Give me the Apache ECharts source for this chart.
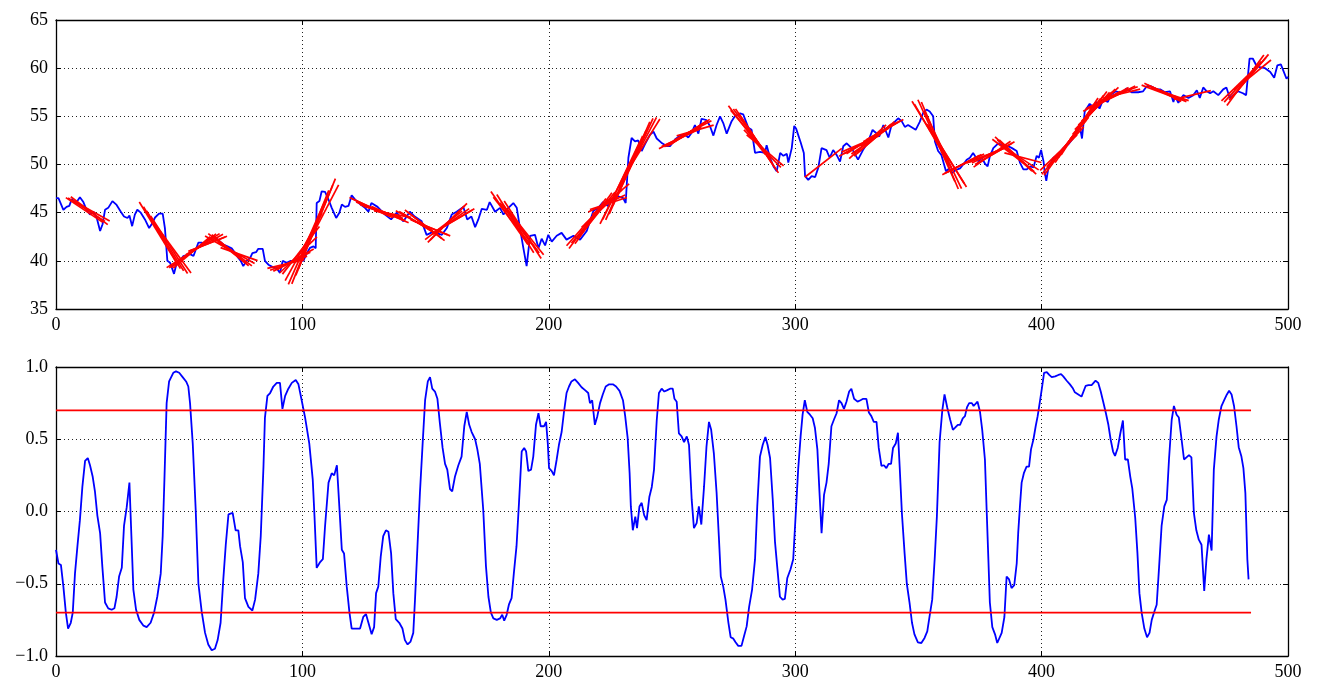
<!DOCTYPE html>
<html>
<head>
<meta charset="utf-8">
<script src="https://cdn.jsdelivr.net/npm/echarts@6/dist/echarts.min.js"></script>
<style>
  html, body { margin: 0; padding: 0; background: #fff; }
  #chart { width: 1321px; height: 681px; }
</style>
</head>
<body>
<div id="chart"></div>
<script>
// Price path: [index, value]
const priceSeries = [
  [0,46.5],[1,46.5],[3,45.3],[4.3,45.6],[5.4,45.7],[6.4,46.4],[8.1,46.0],[9.7,46.6],[11.1,46.1],[12.4,45.3],
  [13.8,44.8],[15.2,45.1],[16.5,44.5],[17.9,43.1],[18.9,43.8],[19.9,45.3],[21.2,45.5],[22.9,46.2],[24.6,45.8],
  [26.3,45.1],[27.6,44.6],[29,44.45],[29.8,44.7],[30.9,43.6],[32,44.8],[33,45.3],[34.4,45.0],[36.1,44.3],
  [37.8,43.4],[38.8,43.8],[40.2,44.5],[41.8,44.9],[43.3,44.9],[44.2,43.4],[45.2,40.0],[46.3,39.8],[47,40.0],
  [47.9,38.65],[49,39.8],[50.3,40.0],[51.7,40.5],[53,40.6],[54.4,40.7],[55.8,40.5],[56.8,41.2],[57.8,41.9],
  [59.1,41.9],[60.5,41.7],[61.8,42.3],[63.6,42.45],[65.2,42.3],[66.6,42.0],[67.9,41.7],[69.6,41.5],[71.3,41.3],
  [72.7,40.8],[74,40.3],[75,40.0],[76,39.45],[77.4,40.0],[78.8,40.3],[79.7,40.8],[81.2,40.9],[82.1,41.25],
  [83.9,41.25],[84.8,40.0],[86.2,39.6],[88,39.35],[89.6,39.2],[90.9,38.75],[92,40.0],[93.6,39.8],[95.3,40.0],
  [97,39.9],[98.8,40.1],[100.4,40.0],[101.8,40.8],[103.1,41.35],[104.5,41.5],[105.4,41.3],[105.8,46.0],
  [106.9,46.2],[107.8,47.2],[109.2,47.15],[110.6,46.35],[111.9,45.5],[113.7,44.45],[115,45.0],[116,45.85],
  [117.3,45.6],[118.7,45.7],[120,46.8],[121.4,46.35],[123.4,45.9],[125.4,45.5],[126.8,45.1],[128,46.0],
  [130.5,45.6],[133.5,44.8],[136,44.3],[138.3,45.0],[141,44.1],[143.6,45.1],[145.6,44.6],[148.4,44.1],
  [150.4,42.7],[153,43.0],[156.6,42.7],[158.6,43.4],[160.6,44.8],[162.6,45.1],[165.3,45.6],[166.9,44.3],
  [168.6,44.6],[170.1,43.5],[171.4,44.3],[172.8,45.4],[174.9,45.3],[176,46.1],[178.2,45.1],[180.2,45.5],
  [181.6,44.8],[183.6,45.5],[185.6,46.0],[187,45.5],[188.3,43.4],[189.7,41.3],[191,39.45],[192.4,42.6],
  [194.4,42.7],[195.8,41.3],[197.1,42.3],[198.5,41.6],[199.8,42.7],[201.2,42.0],[203.2,42.6],[205.2,42.9],
  [207.2,42.2],[210,42.6],[212.7,42.2],[215.4,43.1],[218.1,45.2],[220.1,45.5],[222,46.1],[224,45.7],
  [226,46.4],[228.1,46.7],[230.2,46.5],[231.2,46.0],[232.3,50.7],[233.6,52.75],[235,52.4],[236.3,52.5],
  [237.7,51.4],[239,52.1],[241.1,53.1],[242.5,53.4],[243.8,52.7],[246,52.2],[248,51.9],[249.2,51.9],
  [251.2,52.6],[253.2,53.0],[255.3,53.1],[256.6,52.8],[258,53.3],[259.3,54.1],[260.7,53.2],[262,54.75],
  [264,54.6],[265.4,54.0],[266.8,53.0],[268.1,54.1],[269.5,55.0],[270.8,54.3],[272.2,53.2],[274.2,54.5],
  [275.5,55.0],[277.6,55.3],[278.9,55.2],[281,53.8],[282.3,53.6],[283.7,51.2],[285.7,51.3],[287.7,51.2],
  [288.4,52.0],[289.8,50.7],[291.2,49.8],[292.5,49.3],[293.9,51.2],[295.2,50.9],[296.6,51.1],[297.2,50.2],
  [298.6,51.7],[299.6,54.0],[300.4,53.7],[302.2,52.3],[303.5,51.2],[304,48.8],[305.3,48.4],[306.7,48.8],
  [308.1,48.7],[309.4,49.7],[310.7,51.7],[312.7,51.5],[314,50.7],[315.4,51.5],[316.8,51.0],[318.2,50.3],
  [319.5,51.9],[320.9,52.2],[322.9,51.7],[325.5,50.5],[327.5,51.5],[329.3,52.2],[331.4,53.6],[332.7,53.3],
  [334.1,52.9],[335.8,54.1],[337.8,52.8],[339.1,54.1],[341.8,54.8],[343.2,54.5],[344.5,53.9],[345.8,54.1],
  [348.9,53.6],[350.5,54.4],[352,55.4],[353.3,55.7],[354.6,55.5],[356,55.0],[356.7,52.4],[358,51.4],
  [359.3,51.0],[361.2,49.3],[362.5,49.6],[363.6,49.1],[365,49.4],[366.9,49.6],[368.2,50.0],[369.6,50.5],
  [370.9,50.7],[372.2,51.2],[374.4,50.3],[375.7,50.7],[377,50.1],[378.1,49.8],[379,50.85],[380.4,51.7],
  [382.4,52.2],[384.5,51.9],[386.5,51.9],[388,51.7],[389.9,51.4],[391.2,50.2],[392.6,49.5],[394,49.5],
  [395.3,49.8],[396.7,49.7],[398,50.9],[398.9,50.7],[399.8,51.5],[400.8,50.3],[401.2,49.3],[401.9,48.3],
  [402.8,49.7],[404.8,50.7],[406.8,51.0],[408.8,51.7],[410.9,52.1],[412.9,52.75],[414.3,53.6],[415.4,54.1],
  [416.4,52.7],[417.5,55.5],[419.5,56.3],[420.8,56.0],[422.2,56.5],[423.5,55.8],[424.9,56.7],[426.9,56.5],
  [428,57.2],[430.1,57.6],[432.5,57.4],[434.5,57.9],[436.5,57.5],[439.2,57.5],[441.2,57.6],[442.6,58.1],
  [444.6,58.1],[446.7,57.8],[448.1,57.8],[450.1,57.5],[452.1,57.6],[453.5,56.5],[454.2,57.1],[455.5,56.4],
  [457.5,57.2],[459.6,56.9],[461.6,57.2],[463,57.7],[464.2,56.9],[465.6,58.0],[467,57.6],[468.4,57.4],
  [469.7,57.6],[471.7,57.2],[473.7,57.8],[475,58.0],[476.4,56.9],[477.7,57.2],[479.7,57.6],[481.7,57.4],
  [483,57.2],[484.4,61.0],[485.7,61.0],[487.1,60.3],[488.5,60.1],[490.7,60.0],[492.8,59.6],[494.4,59.0],
  [495.7,60.3],[497.1,60.4],[499.4,58.9],[500,59.1]
];

// Rolling correlation of price against time: [window start, r]
const corrSeries = [
  [0,-0.265],[1,-0.36],[2,-0.37],[3,-0.52],[4,-0.70],[4.9,-0.81],[6,-0.77],[6.8,-0.70],[7.7,-0.43],[8.7,-0.24],
  [9.7,-0.06],[10.7,0.17],[11.8,0.35],[12.9,0.37],[13.8,0.32],[14.9,0.24],[15.8,0.14],[16.8,-0.03],[17.9,-0.15],
  [18.8,-0.38],[19.9,-0.63],[21.2,-0.67],[22.6,-0.68],[23.7,-0.67],[24.6,-0.59],[25.6,-0.45],[26.7,-0.39],
  [27.6,-0.10],[28.7,0.03],[29.8,0.20],[30.6,-0.17],[31.4,-0.54],[32.5,-0.68],[33.8,-0.75],[35.5,-0.79],
  [36.8,-0.80],[38.4,-0.77],[39.8,-0.70],[41.1,-0.59],[42.5,-0.43],[43.3,-0.17],[44,0.22],[44.9,0.75],
  [45.9,0.90],[46.7,0.91],[47.6,0.96],[48.7,0.97],[50,0.96],[51.4,0.93],[52.8,0.90],[53.7,0.865],[54.4,0.75],
  [55.5,0.47],[56.7,0.01],[57.8,-0.50],[59.1,-0.69],[60.5,-0.84],[61.8,-0.92],[63.2,-0.96],[64.5,-0.95],
  [65.6,-0.89],[66.8,-0.77],[67.9,-0.47],[68.9,-0.23],[70,-0.02],[71.7,-0.01],[72.9,-0.13],[74,-0.13],
  [74.7,-0.24],[75.8,-0.35],[76.7,-0.60],[78.1,-0.66],[79.7,-0.685],[80.8,-0.61],[82.1,-0.43],[83.1,-0.17],
  [84.2,0.31],[84.8,0.65],[85.8,0.80],[86.9,0.82],[88.2,0.865],[89.6,0.89],[90.9,0.89],[91.9,0.71],[93,0.80],
  [94.3,0.85],[95.7,0.89],[97.3,0.91],[98.4,0.88],[99.7,0.77],[101.1,0.65],[102.8,0.47],[104.2,0.22],
  [104.9,-0.03],[105.8,-0.39],[107.2,-0.35],[108.3,-0.33],[109.2,-0.10],[110.6,0.20],[111.9,0.265],
  [112.9,0.25],[114,0.32],[114.9,0.06],[116,-0.265],[116.9,-0.29],[118,-0.52],[119.1,-0.70],[120,-0.81],
  [121.8,-0.81],[123.4,-0.81],[124.7,-0.73],[125.8,-0.71],[126.8,-0.77],[128.1,-0.85],[129.1,-0.80],
  [129.9,-0.565],[130.8,-0.52],[131.8,-0.31],[132.8,-0.17],[133.9,-0.13],[134.9,-0.14],[136,-0.29],
  [136.9,-0.565],[137.9,-0.745],[139.3,-0.77],[140.6,-0.81],[141.6,-0.89],[142.7,-0.92],[143.9,-0.90],
  [145,-0.84],[145.7,-0.61],[146.7,-0.24],[147.7,0.13],[148.8,0.47],[149.8,0.77],[150.9,0.90],[151.8,0.93],
  [152.7,0.85],[153.8,0.83],[154.8,0.78],[155.8,0.61],[156.9,0.44],[157.9,0.33],[158.8,0.29],[159.9,0.155],
  [160.8,0.14],[161.9,0.24],[163.3,0.32],[164.6,0.38],[165.7,0.59],[166.7,0.69],[167.7,0.60],[168.7,0.55],
  [170.1,0.50],[171,0.43],[172,0.33],[173.4,0.01],[174.5,-0.38],[175.5,-0.59],[176.5,-0.70],[177.5,-0.74],
  [178.9,-0.75],[180.2,-0.74],[181.1,-0.715],[181.9,-0.755],[182.9,-0.715],[183.8,-0.645],[184.9,-0.60],
  [185.8,-0.43],[186.9,-0.24],[187.9,0.06],[189,0.415],[190,0.44],[190.8,0.415],[191.7,0.28],[192.8,0.29],
  [193.7,0.38],[194.8,0.60],[195.8,0.68],[196.7,0.59],[198.1,0.59],[198.9,0.62],[199.6,0.47],[200.1,0.30],
  [201.2,0.28],[202.1,0.25],[203.2,0.36],[204.1,0.46],[205.2,0.55],[206.1,0.68],[207.2,0.82],[208.2,0.865],
  [209.2,0.90],[210.6,0.915],[211.9,0.89],[213.3,0.86],[214.7,0.84],[216,0.82],[216.7,0.75],[217.6,0.77],
  [218.7,0.60],[219.7,0.66],[220.8,0.75],[221.9,0.81],[223.1,0.865],[224.5,0.88],[226,0.88],[227.3,0.865],
  [228.7,0.835],[230.1,0.77],[231,0.66],[232,0.51],[232.8,0.265],[233.3,0.035],[234.1,-0.13],[235.1,-0.035],
  [235.8,-0.115],[236.8,0.035],[237.7,0.06],[238.7,-0.025],[239.7,-0.06],[240.8,0.10],[241.8,0.17],
  [242.7,0.29],[243.8,0.63],[244.7,0.82],[245.8,0.85],[246.9,0.83],[248.1,0.84],[249.2,0.85],[250.3,0.85],
  [251,0.78],[251.9,0.76],[252.8,0.54],[253.9,0.52],[254.9,0.48],[256,0.52],[256.9,0.46],[258,0.08],
  [258.9,-0.115],[260,-0.08],[260.9,0.035],[261.9,-0.09],[263,0.17],[264,0.45],[265,0.62],[265.9,0.565],
  [267,0.40],[268.1,0.13],[269,-0.17],[269.8,-0.45],[270.8,-0.52],[271.7,-0.61],[272.9,-0.77],[273.8,-0.87],
  [274.9,-0.88],[275.8,-0.905],[276.9,-0.93],[278.2,-0.93],[279.2,-0.865],[280.3,-0.795],[281.3,-0.66],
  [282.5,-0.54],[283.7,-0.33],[284.6,0.035],[285.7,0.38],[286.8,0.46],[287.9,0.515],[288.8,0.46],[289.8,0.37],
  [290.9,0.08],[291.8,-0.21],[292.8,-0.40],[293.8,-0.59],[294.9,-0.61],[295.8,-0.605],[296.8,-0.46],
  [298.1,-0.40],[299.2,-0.33],[300.3,0.01],[301.2,0.29],[302.2,0.52],[303,0.67],[303.9,0.77],[304.9,0.69],
  [306,0.67],[307.1,0.645],[308,0.58],[309,0.43],[309.8,0.15],[310.7,-0.15],[311.7,0.115],[312.7,0.20],
  [313.6,0.33],[314.7,0.59],[315.7,0.635],[316.8,0.68],[317.8,0.77],[318.8,0.75],[319.8,0.71],[320.8,0.76],
  [321.9,0.83],[322.8,0.85],[323.9,0.78],[325.3,0.76],[326.5,0.77],[327.6,0.78],[328.9,0.78],[329.9,0.685],
  [330.9,0.66],[331.9,0.62],[333,0.62],[333.9,0.44],[335,0.315],[336,0.32],[337,0.30],[337.9,0.33],
  [338.9,0.33],[339.7,0.44],[340.8,0.47],[341.7,0.545],[342.4,0.31],[343.3,-0.01],[344.4,-0.29],[345.3,-0.50],
  [346.4,-0.63],[347.4,-0.77],[348.4,-0.85],[349.8,-0.905],[351.2,-0.91],[352.5,-0.875],[353.6,-0.83],
  [354.5,-0.73],[355.6,-0.61],[356.6,-0.33],[357.5,-0.035],[358.6,0.48],[359.7,0.70],[360.6,0.81],
  [361.7,0.72],[362.9,0.635],[364,0.565],[364.9,0.58],[366,0.60],[366.9,0.60],[368,0.645],[368.9,0.66],
  [369.7,0.72],[370.6,0.75],[371.7,0.75],[372.4,0.73],[373,0.73],[374,0.76],[375,0.69],[375.9,0.565],
  [377,0.36],[377.7,0.01],[378.4,-0.33],[379,-0.63],[380,-0.80],[381.1,-0.85],[382,-0.91],[382.8,-0.92],
  [383.8,-0.84],[384.9,-0.73],[385.8,-0.45],[386.8,-0.47],[387.8,-0.53],[388.9,-0.51],[389.9,-0.36],
  [390.5,-0.15],[391.2,0.035],[391.9,0.20],[392.8,0.265],[393.9,0.31],[394.9,0.31],[395.7,0.43],[396.7,0.50],
  [397.6,0.59],[398.4,0.66],[399.4,0.77],[400.1,0.85],[401,0.96],[402.1,0.965],[403.1,0.945],[404.1,0.93],
  [405.5,0.935],[406.8,0.945],[407.9,0.95],[408.8,0.935],[410.2,0.905],[411.5,0.88],[412.6,0.855],
  [413.5,0.825],[414.9,0.81],[416.2,0.795],[416.9,0.785],[417.9,0.87],[419,0.875],[420.3,0.875],[421.9,0.905],
  [423,0.89],[424,0.83],[425,0.76],[426.1,0.68],[427.1,0.60],[428,0.50],[429,0.415],[429.8,0.385],[430.9,0.44],
  [432,0.545],[433,0.63],[433.9,0.36],[435,0.36],[436,0.24],[436.8,0.16],[438,-0.045],[438.9,-0.29],
  [439.7,-0.565],[440.6,-0.70],[441.7,-0.81],[442.8,-0.87],[443.8,-0.84],[444.7,-0.75],[445.8,-0.69],
  [446.7,-0.645],[447.7,-0.38],[448.7,-0.10],[449.8,0.035],[450.8,0.08],[451.7,0.36],[452.8,0.635],
  [453.7,0.73],[454.8,0.67],[455.7,0.65],[456.8,0.50],[457.8,0.36],[458.8,0.375],[459.8,0.39],[460.8,0.375],
  [461.8,-0.01],[462.8,-0.13],[463.8,-0.195],[464.9,-0.23],[466,-0.55],[466.9,-0.33],[467.9,-0.16],
  [469,-0.27],[469.9,0.29],[471,0.52],[471.9,0.635],[473,0.73],[474.1,0.77],[475.2,0.81],[476.1,0.835],
  [477.1,0.81],[478.1,0.73],[479.1,0.59],[480,0.445],[481.1,0.38],[481.9,0.30],[482.7,0.127],[483.5,-0.33],
  [484,-0.47]
];

const corrThresholds = [0.7, -0.7];   // strong-trend bands
const corrRange = [0, 485];           // span covered by the rolling window
const fitWindow = 15;                 // rolling window length (samples)

const xTicks = { min: 0, max: 500, interval: 100 };
const priceTicks = { min: 35, max: 65, interval: 5 };
const corrTicks = { min: -1, max: 1, interval: 0.5 };

// Least-squares trend line over each window whose |r| passes the threshold
function trendSegments() {
  const limit = corrThresholds[0];
  const segs = [];
  corrSeries.forEach(([x0, r]) => {
    if (Math.abs(r) < limit) return;
    const x1 = x0 + fitWindow;
    const pts = priceSeries.filter(p => p[0] >= x0 && p[0] <= x1);
    if (pts.length < 3) return;
    const n = pts.length;
    let sx = 0, sy = 0, sxx = 0, sxy = 0;
    pts.forEach(([x, y]) => { sx += x; sy += y; sxx += x * x; sxy += x * y; });
    const b = (n * sxy - sx * sy) / (n * sxx - sx * sx);
    const a = (sy - b * sx) / n;
    segs.push({ coords: [[x0, a + b * x0], [x1, a + b * x1]] });
  });
  return segs;
}

const FONT = 'Liberation Serif';
const frame = { show: true, onZero: false, lineStyle: { color: '#000', width: 1.3 } };
const ticksIn = { show: true, inside: true, length: 5, lineStyle: { color: '#000', width: 1 } };
const dotted = { show: true, showMinLine: false, showMaxLine: false,
  lineStyle: { color: '#222', width: 1, type: [1, 3] } };
const labelStyle = { color: '#000', fontFamily: FONT, fontSize: 18 };
const fmtMinus = v => String(v).replace('-', '\u2212');

function xAxes(gridIndex) {
  return [
    { type: 'value', gridIndex, position: 'bottom', ...xTicks,
      axisLine: frame, axisTick: ticksIn, splitLine: dotted,
      axisLabel: { ...labelStyle, margin: 7 } },
    { type: 'value', gridIndex, position: 'top', ...xTicks,
      axisLine: frame, axisTick: ticksIn, splitLine: { show: false }, axisLabel: { show: false } }
  ];
}
function yAxes(gridIndex, ticks, formatter) {
  return [
    { type: 'value', gridIndex, position: 'left', ...ticks,
      axisLine: frame, axisTick: ticksIn, splitLine: dotted,
      axisLabel: { ...labelStyle, margin: 8, formatter } },
    { type: 'value', gridIndex, position: 'right', ...ticks,
      axisLine: frame, axisTick: ticksIn, splitLine: { show: false }, axisLabel: { show: false } }
  ];
}

const chart = echarts.init(document.getElementById('chart'), null, { renderer: 'canvas' });
chart.setOption({
  animation: false,
  backgroundColor: '#fff',
  textStyle: { fontFamily: FONT },
  grid: [
    { left: 56, top: 20, width: 1232, height: 289 },
    { left: 56, top: 367, width: 1232, height: 289 }
  ],
  xAxis: [...xAxes(0), ...xAxes(1)],
  yAxis: [
    ...yAxes(0, priceTicks, v => String(v)),
    ...yAxes(1, corrTicks, v => fmtMinus(v.toFixed(1)))
  ],
  series: [
    { type: 'line', xAxisIndex: 0, yAxisIndex: 0, data: priceSeries, symbol: 'none',
      lineStyle: { color: '#0000ff', width: 1.8 }, silent: true, z: 2 },
    { type: 'lines', coordinateSystem: 'cartesian2d', xAxisIndex: 0, yAxisIndex: 0,
      data: trendSegments(), silent: true, z: 3,
      lineStyle: { color: '#ff0000', width: 1.7, opacity: 1 } },
    { type: 'line', xAxisIndex: 2, yAxisIndex: 2, data: corrSeries, symbol: 'none',
      lineStyle: { color: '#0000ff', width: 1.8 }, silent: true, z: 2 },
    ...corrThresholds.map(t => ({
      type: 'line', xAxisIndex: 2, yAxisIndex: 2, symbol: 'none', silent: true, z: 3,
      data: [[corrRange[0], t], [corrRange[1], t]],
      lineStyle: { color: '#ff0000', width: 1.8 }
    }))
  ]
});
</script>
</body>
</html>
